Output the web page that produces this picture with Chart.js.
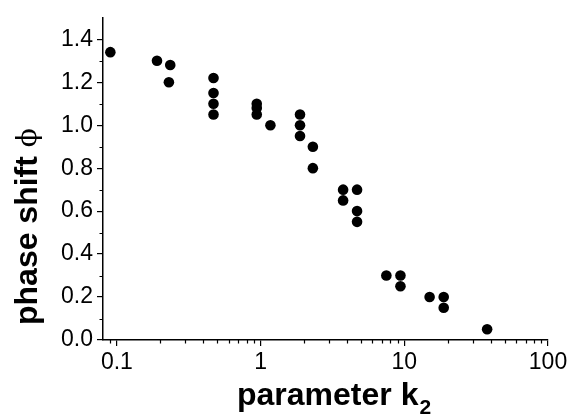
<!DOCTYPE html>
<html>
<head>
<meta charset="utf-8">
<script src="https://cdn.jsdelivr.net/npm/chart.js@4"></script>
<style>
  html, body { margin: 0; padding: 0; background: #fff; }
  #wrap { width: 571px; height: 417px; position: relative; }
</style>
</head>
<body>
<div id="wrap"><canvas id="chart"></canvas></div>
<script>
// parameter k2 vs phase shift phi
const kValues   = [0.09, 0.19, 0.235, 0.23, 0.47, 0.47, 0.47, 0.47, 0.94, 0.94, 0.94, 1.17,
                   1.88, 1.88, 1.88, 2.31, 2.31, 3.75, 3.75, 4.69, 4.69, 4.69, 7.5, 9.4, 9.4,
                   15, 18.8, 18.8, 37.7];
const phiValues = [1.34, 1.30, 1.28, 1.20, 1.22, 1.15, 1.10, 1.05, 1.10, 1.08, 1.05, 1.00,
                   1.05, 1.00, 0.95, 0.90, 0.80, 0.70, 0.65, 0.70, 0.60, 0.55, 0.30, 0.30, 0.25,
                   0.20, 0.20, 0.15, 0.05];

const xTicks      = [0.1, 1, 10, 100];
const xMinorTicks = [0.09, 0.2, 0.3, 0.4, 0.5, 0.6, 0.7, 0.8, 0.9, 2, 3, 4, 5, 6, 7, 8, 9,
                     20, 30, 40, 50, 60, 70, 80, 90];
const yTicks      = [0, 0.2, 0.4, 0.6, 0.8, 1.0, 1.2, 1.4];
const yMinorTicks = [0.1, 0.3, 0.5, 0.7, 0.9, 1.1, 1.3];

const FONT = "'Liberation Sans', Arial, Helvetica, sans-serif";

// minor ticks + axis titles
const extras = {
  id: 'extras',
  afterDraw(chart) {
    const { ctx, chartArea: a, scales: { x, y } } = chart;
    ctx.save();
    ctx.strokeStyle = '#000';
    ctx.lineWidth = 1.2;
    ctx.beginPath();
    xMinorTicks.forEach(v => {
      const px = Math.round(x.getPixelForValue(v)) + 0.5;
      ctx.moveTo(px, a.bottom); ctx.lineTo(px, a.bottom + 3.5);
    });
    yMinorTicks.forEach(v => {
      const py = Math.round(y.getPixelForValue(v)) + 0.5;
      ctx.moveTo(a.left, py); ctx.lineTo(a.left - 3.5, py);
    });
    ctx.stroke();

    ctx.fillStyle = '#000';
    // x title with subscript
    ctx.font = 'bold 32px ' + FONT;
    ctx.textBaseline = 'alphabetic';
    ctx.textAlign = 'left';
    const main = 'parameter k';
    ctx.fillText(main, 237, 405);
    const w = ctx.measureText(main).width;
    ctx.font = 'bold 21px ' + FONT;
    ctx.fillText('2', 237 + w + 1, 414);

    // y title, rotated
    ctx.translate(37, 325);
    ctx.rotate(-Math.PI / 2);
    ctx.font = 'bold 32px ' + FONT;
    const yt = 'phase shift ';
    ctx.fillText(yt, 0, 0);
    const w2 = ctx.measureText(yt).width;
    ctx.font = "28px 'DejaVu Serif', serif";
    ctx.fillText('\u03D5', w2, -1);
    ctx.restore();
  }
};

new Chart(document.getElementById('chart'), {
  type: 'scatter',
  data: {
    datasets: [{
      data: kValues.map((k, i) => ({ x: k, y: phiValues[i] })),
      backgroundColor: '#000',
      borderWidth: 0,
      pointRadius: 5.3,
      pointHoverRadius: 5.3,
    }],
  },
  options: {
    responsive: true,
    maintainAspectRatio: false,
    animation: false,
    events: [],
    layout: { padding: { left: 0, top: 8, right: 23, bottom: 0 } },
    plugins: { legend: { display: false }, tooltip: { enabled: false } },
    scales: {
      x: {
        type: 'logarithmic',
        min: 0.08, max: 100,
        afterBuildTicks: s => { s.ticks = xTicks.map(v => ({ value: v })); },
        afterFit: s => { s.height = 77; },
        border: { display: true, color: '#000', width: 1.5 },
        grid: { drawOnChartArea: false, drawTicks: true, tickLength: 6, color: '#000', lineWidth: 1.2 },
        ticks: {
          color: '#000', padding: 3, maxRotation: 0, autoSkip: false,
          font: { family: FONT, size: 23 },
          callback: v => String(v),
        },
      },
      y: {
        min: 0, max: 1.5,
        afterBuildTicks: s => { s.ticks = yTicks.map(v => ({ value: v })); },
        afterFit: s => { s.width = 103; },
        border: { display: true, color: '#000', width: 1.5 },
        grid: { drawOnChartArea: false, drawTicks: true, tickLength: 6, color: '#000', lineWidth: 1.2 },
        ticks: {
          color: '#000', padding: 4, autoSkip: false,
          font: { family: FONT, size: 23 },
          callback: v => v.toFixed(1),
        },
      },
    },
  },
  plugins: [extras],
});
</script>
</body>
</html>
